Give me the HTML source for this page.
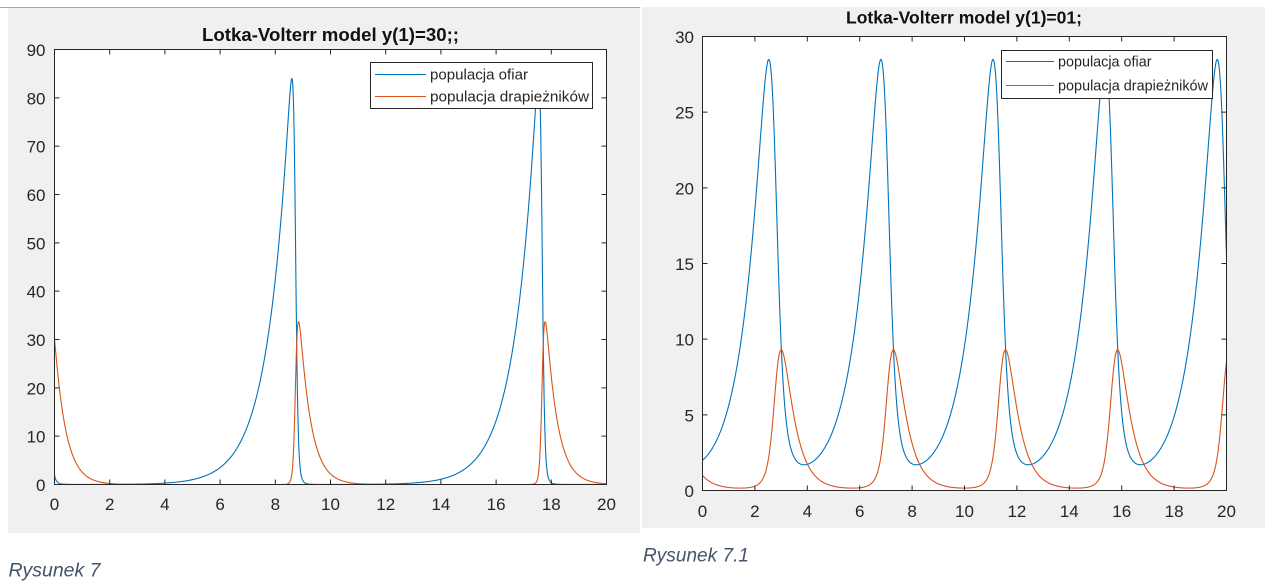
<!DOCTYPE html>
<html>
<head>
<meta charset="utf-8">
<style>
html,body{margin:0;padding:0;background:#fff;}
body{width:1265px;height:585px;overflow:hidden;}
svg{display:block;}
</style>
</head>
<body>
<svg id="s" xmlns="http://www.w3.org/2000/svg" width="1265" height="585" viewBox="0 0 1265 585">
  <defs>
    <clipPath id="clipL"><rect x="54.5" y="49.5" width="552" height="435"/></clipPath>
    <clipPath id="clipR"><rect x="702.5" y="36.5" width="524" height="454"/></clipPath>
  </defs>
  <rect x="0" y="0" width="1265" height="585" fill="#ffffff"/>
  <!-- left panel -->
  <line x1="0" y1="7.5" x2="640" y2="7.5" stroke="#a6a6a6" stroke-width="1"/>
  <rect x="8" y="8" width="632" height="525" fill="#f0f0f0"/>
  <!-- right panel -->
  <rect x="642" y="7" width="623" height="521" fill="#f0f0f0"/>

  <!-- axes backgrounds -->
  <rect x="54.5" y="49.5" width="552" height="435" fill="#ffffff"/>
  <rect x="702.5" y="36.5" width="524" height="454" fill="#ffffff"/>

  <g id="curvesL" clip-path="url(#clipL)" fill="none" stroke-width="1.1"></g>
  <g id="curvesR" clip-path="url(#clipR)" fill="none" stroke-width="1.1"></g>

  <g id="axesL"></g>
  <g id="axesR"></g>

  <!-- titles -->
  <text x="330.5" y="41" text-anchor="middle" font-family="Liberation Sans, Arial, sans-serif" font-weight="bold" font-size="18" fill="#111" textLength="257" lengthAdjust="spacingAndGlyphs">Lotka-Volterr model y(1)=30;;</text>
  <text x="964" y="23.5" text-anchor="middle" font-family="Liberation Sans, Arial, sans-serif" font-weight="bold" font-size="17.5" fill="#111" textLength="236" lengthAdjust="spacingAndGlyphs">Lotka-Volterr model y(1)=01;</text>

  <!-- left legend -->
  <rect x="370.5" y="62.5" width="222" height="46" fill="#ffffff" stroke="#262626" stroke-width="1"/>
  <line x1="375" y1="74.5" x2="426" y2="74.5" stroke="#0072BD" stroke-width="1.1"/>
  <line x1="375" y1="96.5" x2="426" y2="96.5" stroke="#D95319" stroke-width="1.1"/>
  <text x="430" y="79.5" font-family="Liberation Sans, Arial, sans-serif" font-size="15" fill="#262626" textLength="98" lengthAdjust="spacingAndGlyphs">populacja ofiar</text>
  <text x="430" y="101.5" font-family="Liberation Sans, Arial, sans-serif" font-size="15" fill="#262626" textLength="159" lengthAdjust="spacingAndGlyphs">populacja drapieżników</text>

  <!-- right legend -->
  <rect x="1001.5" y="50.5" width="211" height="48" fill="#ffffff" stroke="#262626" stroke-width="1"/>
  <line x1="1006" y1="61.5" x2="1054" y2="61.5" stroke="#0072BD" stroke-width="1.1"/>
  <line x1="1006" y1="85.5" x2="1054" y2="85.5" stroke="#D95319" stroke-width="1.1"/>
  <text x="1058" y="66.5" font-family="Liberation Sans, Arial, sans-serif" font-size="15" fill="#262626" textLength="93.5" lengthAdjust="spacingAndGlyphs">populacja ofiar</text>
  <text x="1058" y="90.5" font-family="Liberation Sans, Arial, sans-serif" font-size="15" fill="#262626" textLength="150" lengthAdjust="spacingAndGlyphs">populacja drapieżników</text>

  <!-- captions -->
  <text x="8.5" y="576.5" font-family="Liberation Sans, Arial, sans-serif" font-style="italic" font-size="19" fill="#44546A" textLength="92" lengthAdjust="spacingAndGlyphs">Rysunek 7</text>
  <text x="643" y="561.5" font-family="Liberation Sans, Arial, sans-serif" font-style="italic" font-size="19" fill="#44546A" textLength="106" lengthAdjust="spacingAndGlyphs">Rysunek 7.1</text>
</svg>
<script>
(function(){
  var NS='http://www.w3.org/2000/svg';
  function el(tag,attrs,parent,text){
    var e=document.createElementNS(NS,tag);
    for(var k in attrs)e.setAttribute(k,attrs[k]);
    if(text!==undefined)e.textContent=text;
    parent.appendChild(e);return e;
  }
  function drawAxes(g,c){
    var d='';
    var tl=5;
    for(var i=0;i<=10;i++){
      var x=c.x0+(c.x1-c.x0)*i/10;
      d+='M'+x+' '+c.y1+'V'+(c.y1-tl)+'M'+x+' '+c.y0+'V'+(c.y0+tl);
      el('text',{x:x,y:c.y1+c.xlab,'text-anchor':'middle','font-family':'Liberation Sans, Arial, sans-serif','font-size':17,fill:'#262626'},g,String(2*i));
    }
    var n=c.ymax/c.ystep;
    for(var j=0;j<=n;j++){
      var y=c.y1-(c.y1-c.y0)*j/n;
      d+='M'+c.x0+' '+y+'H'+(c.x0+tl)+'M'+c.x1+' '+y+'H'+(c.x1-tl);
      el('text',{x:c.ylx,y:y+6.5,'text-anchor':'end','font-family':'Liberation Sans, Arial, sans-serif','font-size':17,fill:'#262626'},g,String(j*c.ystep));
    }
    el('path',{d:d,stroke:'#262626','stroke-width':1,fill:'none'},g);
    el('rect',{x:c.x0,y:c.y0,width:c.x1-c.x0,height:c.y1-c.y0,fill:'none',stroke:'#262626','stroke-width':1},g);
  }
  var cL={x0:54.5,x1:606.5,y0:49.5,y1:484.5,ymax:90,ystep:10,xlab:25.5,ylx:45.5};
  var cR={x0:702.5,x1:1226.5,y0:36.5,y1:490.5,ymax:30,ystep:5,xlab:26.5,ylx:694};
  drawAxes(document.getElementById('axesL'),cL);
  drawAxes(document.getElementById('axesR'),cR);

  function sim(y1,y2,T,dt,p){
    var a=p[0],b=p[1],c=p[2],d=p[3];
    var out=[[0,y1,y2]];
    var n=Math.round(T/dt);
    function F(u,v){return [a*u-b*u*v,-c*v+d*u*v];}
    for(var i=1;i<=n;i++){
      var k1=F(y1,y2);
      var k2=F(y1+dt/2*k1[0],y2+dt/2*k1[1]);
      var k3=F(y1+dt/2*k2[0],y2+dt/2*k2[1]);
      var k4=F(y1+dt*k3[0],y2+dt*k3[1]);
      y1+=dt/6*(k1[0]+2*k2[0]+2*k3[0]+k4[0]);
      y2+=dt/6*(k1[1]+2*k2[1]+2*k3[1]+k4[1]);
      out.push([i*dt,y1,y2]);
    }
    return out;
  }
  function peaksOf(r){
    var pk=[];
    for(var i=1;i<r.length-1;i++){
      if(r[i][1]>r[i-1][1]&&r[i][1]>=r[i+1][1])pk.push(r[i][0]);
    }
    return pk;
  }
  // right chart parameters (unit time), scaled so the period = 4.28
  var puR=[4.95,2.21,9.5,1];
  var rr=sim(2,1,5,0.0002,puR);
  var pkR=peaksOf(rr);
  var PuR=(pkR.length>1)?(pkR[1]-pkR[0]):1.2;
  var sR=4.28/PuR;
  var pR=puR.map(function(v){return v/sR;});

  // left chart parameters: slightly lower b/d, time scaled so first peak at 8.60
  var puL=[2.24*2.12,2.12,9.5,1];
  var rl=sim(2,30,6,0.0002,puL);
  var pkL=peaksOf(rl);
  var sL=(pkL.length>0)?(8.60/pkL[0]):sR;
  var pL=puL.map(function(v){return v/sL;});

  function path(data,idx,c){
    var sx=(c.x1-c.x0)/20, sy=(c.y1-c.y0)/c.ymax;
    var d='',lx=null,ly=null;
    for(var i=0;i<data.length;i++){
      var x=c.x0+data[i][0]*sx, y=c.y1-data[i][idx]*sy;
      if(y<c.y0-50)y=c.y0-50;
      if(lx===null){d+='M'+x.toFixed(2)+' '+y.toFixed(2);lx=x;ly=y;continue;}
      var dx=x-lx,dy=y-ly;
      if(dx*dx+dy*dy>0.36||i===data.length-1){
        d+='L'+x.toFixed(2)+' '+y.toFixed(2);lx=x;ly=y;
      }
    }
    return d;
  }
  var dL=sim(2,30,20,0.0005,pL);
  var dR=sim(2,1,20,0.0005,pR);
  var gL=document.getElementById('curvesL'),gR=document.getElementById('curvesR');
  el('path',{d:path(dL,1,cL),stroke:'#0072BD'},gL);
  el('path',{d:path(dL,2,cL),stroke:'#D95319'},gL);
  el('path',{d:path(dR,1,cR),stroke:'#0072BD'},gR);
  el('path',{d:path(dR,2,cR),stroke:'#D95319'},gR);
})();
</script>
</body>
</html>
